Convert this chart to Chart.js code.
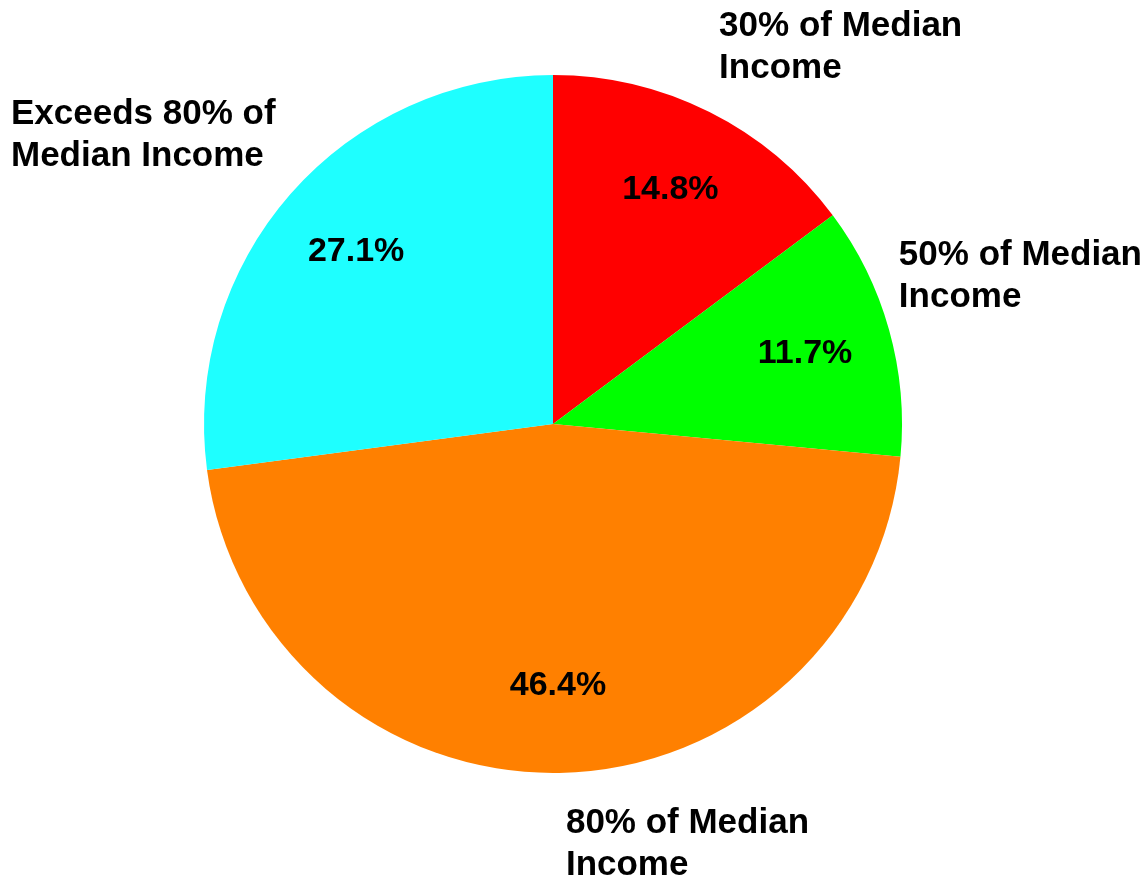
<!DOCTYPE html>
<html>
<head>
<meta charset="utf-8">
<script src="https://cdn.jsdelivr.net/npm/chart.js@4"></script>
<style>
  html, body { margin: 0; padding: 0; background: #fff; }
  #wrap { width: 1146px; height: 879px; }
</style>
</head>
<body>
<div id="wrap"><canvas id="pie-chart"></canvas></div>
<script>
var categories = ['30% of Median Income', '50% of Median Income', '80% of Median Income', 'Exceeds 80% of Median Income'];
var labelLines = [['30% of Median', 'Income'], ['50% of Median', 'Income'], ['80% of Median', 'Income'], ['Exceeds 80% of', 'Median Income']];
var shares = [14.8, 11.7, 46.4, 27.1];
var colors = ['#FF0000', '#00FF00', '#FF8000', '#1EFFFF'];

// where each outside label block starts, in units of the pie radius from the centre
var labelSpots = [[0.476, -1.138], [0.991, -0.484], [0.037, 1.144], [-1.553, -0.888]];

var labelFont = 'bold 35px "Liberation Sans", Arial, sans-serif';
var pctFont = 'bold 34px "Liberation Sans", Arial, sans-serif';

var pieLabels = {
  id: 'pieLabels',
  afterDraw: function (chart) {
    var c = chart.ctx;
    var meta = chart.getDatasetMeta(0);
    c.save();
    c.fillStyle = '#000';
    meta.data.forEach(function (arc, i) {
      var p = arc.getProps(['x', 'y', 'startAngle', 'endAngle', 'outerRadius']);
      var mid = (p.startAngle + p.endAngle) / 2;
      var r = p.outerRadius;
      c.font = pctFont;
      c.textAlign = 'center';
      c.textBaseline = 'middle';
      c.fillText(shares[i].toFixed(1) + '%', p.x + Math.cos(mid) * r * 0.75, p.y + Math.sin(mid) * r * 0.75);

      c.font = labelFont;
      c.textAlign = 'left';
      var lx = p.x + labelSpots[i][0] * r;
      var ly = p.y + labelSpots[i][1] * r;
      labelLines[i].forEach(function (line, j) {
        c.fillText(line, lx, ly + j * 42);
      });
    });
    c.restore();
  }
};

var ctx = document.getElementById('pie-chart').getContext('2d');
var myChart = new Chart(ctx, {
  type: 'pie',
  data: {
    labels: categories,
    datasets: [{
      data: shares,
      backgroundColor: colors,
      borderWidth: 0
    }]
  },
  options: {
    responsive: true,
    maintainAspectRatio: false,
    animation: false,
    layout: {
      padding: { left: 204, right: 244, top: 74, bottom: 105 }
    },
    plugins: {
      legend: { display: false },
      tooltip: { enabled: false }
    }
  },
  plugins: [pieLabels]
});
</script>
</body>
</html>
